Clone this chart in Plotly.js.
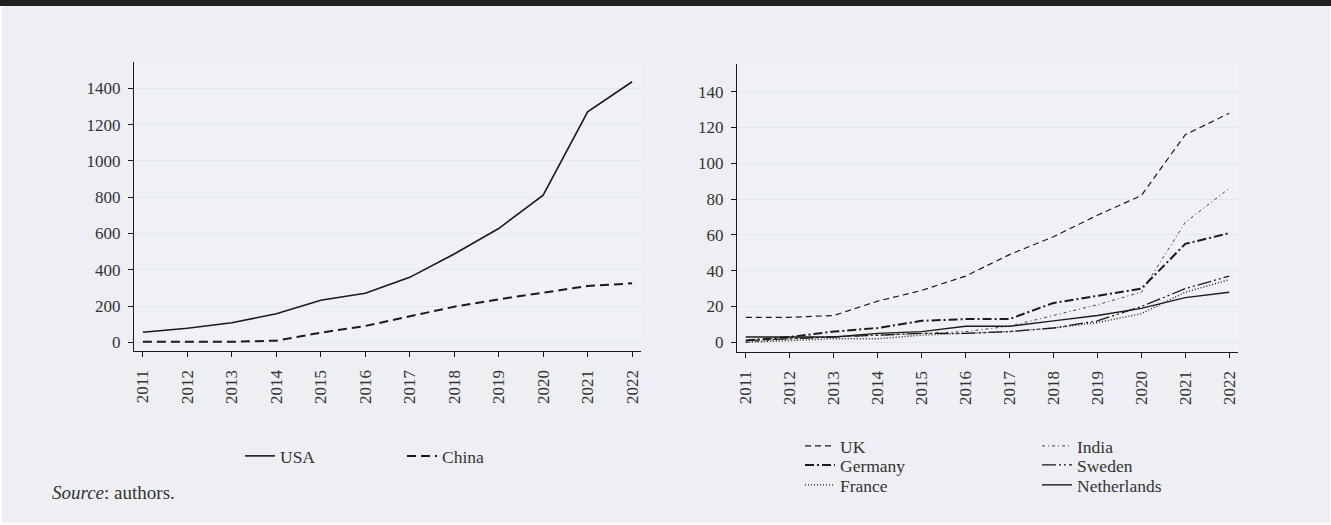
<!DOCTYPE html>
<html>
<head>
<meta charset="utf-8">
<script src="https://cdn.plot.ly/plotly-3.0.1.min.js"></script>
<style>
  html, body { margin: 0; padding: 0; background: #ffffff; }
  #chart { width: 1331px; height: 525px; }
</style>
</head>
<body>
<div id="chart"></div>
<script>
// Years shared by both panels
const years = [2011, 2012, 2013, 2014, 2015, 2016, 2017, 2018, 2019, 2020, 2021, 2022];

// Left panel: USA and China
const usa   = [55, 77, 108, 157, 232, 270, 358, 487, 627, 811, 1270, 1436];
const china = [3, 3, 3, 9, 53, 90, 141, 196, 237, 273, 310, 325];

// Right panel: other countries
const uk          = [14, 14, 15, 23, 29, 37, 49, 59, 71, 82, 116, 128];
const india       = [0, 2, 3, 4, 5, 6, 9, 15, 21, 28, 67, 86];
const germany     = [1, 3, 6, 8, 12, 13, 13, 22, 26, 30, 55, 61];
const sweden      = [1, 2, 3, 4, 5, 5, 6, 8, 12, 20, 30, 37];
const france      = [0, 1, 2, 2, 4, 5, 6, 8, 11, 16, 28, 35];
const netherlands = [3, 3, 3, 5, 6, 9, 9, 12, 15, 19, 25, 28];

const yearLabels = years.map(String);
const leftTicks  = [0, 200, 400, 600, 800, 1000, 1200, 1400];
const rightTicks = [0, 20, 40, 60, 80, 100, 120, 140];

const W = 1331, H = 525;
const px = v => v / W;          // horizontal pixel -> paper
const py = v => 1 - v / H;      // vertical pixel (from top) -> paper

const ink = '#1b1b1b';
const textColor = '#333333';
const family = 'Liberation Serif, Times New Roman, serif';
const tickFont = { family, size: 17, color: textColor };
const legendFont = { family, size: 17.5, color: textColor };

function line(name, x, y, xa, ya, dash, width, legend, color) {
  return {
    type: 'scatter', mode: 'lines', name, x, y,
    xaxis: xa, yaxis: ya, legend,
    line: { color: color || ink, width, dash },
    hoverinfo: 'skip'
  };
}

// Right-hand key is laid out as three rows of two entries
const traces = [
  line('USA', years, usa, 'x', 'y', 'solid', 1.6, 'legend'),
  line('China', years, china, 'x', 'y', '9px,5px', 2, 'legend'),
  line('UK', years, uk, 'x2', 'y2', '6px,4px', 1.2, 'legend2'),
  line('India', years, india, 'x2', 'y2', '3px,3px,1px,3px', 1, 'legend2', '#444'),
  line('Germany', years, germany, 'x2', 'y2', '9px,3px,2px,3px', 2, 'legend3'),
  line('Sweden', years, sweden, 'x2', 'y2', '14px,3px,2px,3px,2px,3px', 1.3, 'legend3'),
  line('France', years, france, 'x2', 'y2', '1px,2px', 1.4, 'legend4'),
  line('Netherlands', years, netherlands, 'x2', 'y2', 'solid', 1.4, 'legend4')
];

const xCommon = {
  range: [2010.8, 2022.2],
  tickmode: 'array', tickvals: years, ticktext: yearLabels,
  tickangle: -90, ticks: 'outside', ticklen: 5, tickwidth: 1, tickcolor: ink,
  showline: true, linecolor: ink, linewidth: 1.2,
  showgrid: false, zeroline: false,
  tickfont: tickFont, ticklabelstandoff: 6, fixedrange: true
};
const yCommon = {
  ticks: 'outside', ticklen: 5, tickwidth: 1, tickcolor: ink,
  showline: true, linecolor: ink, linewidth: 1.2,
  showgrid: true, gridcolor: '#dfe8eb', gridwidth: 1,
  zeroline: false, tickfont: tickFont, ticklabelstandoff: 4, fixedrange: true
};

function rowLegend(xPix, yPix, entry) {
  return {
    orientation: 'h', x: px(xPix), y: py(yPix), xanchor: 'left', yanchor: 'middle',
    bgcolor: 'rgba(0,0,0,0)', font: legendFont,
    entrywidth: entry, entrywidthmode: 'pixels',
    itemclick: false, itemdoubleclick: false
  };
}

const layout = {
  width: W, height: H,
  margin: { l: 0, r: 0, t: 0, b: 0 },
  paper_bgcolor: '#eeeff3',
  plot_bgcolor: '#f0f1f5',
  font: tickFont,
  showlegend: true,
  xaxis: Object.assign({}, xCommon, { domain: [px(134), px(641)], anchor: 'y' }),
  yaxis: Object.assign({}, yCommon, {
    domain: [py(351), py(62)], anchor: 'x',
    range: [-48, 1545], tickmode: 'array', tickvals: leftTicks, ticktext: leftTicks.map(String)
  }),
  xaxis2: Object.assign({}, xCommon, { domain: [px(737), px(1238)], anchor: 'y2' }),
  yaxis2: Object.assign({}, yCommon, {
    domain: [py(352), py(64)], anchor: 'x2',
    range: [-5.4, 155.5], tickmode: 'array', tickvals: rightTicks, ticktext: rightTicks.map(String)
  }),
  legend:  rowLegend(240, 456, 117),
  legend2: rowLegend(800, 446, 192),
  legend3: rowLegend(800, 465, 192),
  legend4: rowLegend(800, 485, 192),
  shapes: [
    // dark band along the top edge
    { type: 'rect', xref: 'paper', yref: 'paper', x0: 0, x1: 1, y0: py(6), y1: 1,
      fillcolor: '#231f20', line: { width: 0 }, layer: 'above' },
    // thin white frame on the left, right and bottom edges
    { type: 'rect', xref: 'paper', yref: 'paper', x0: 0, x1: px(2), y0: 0, y1: py(6),
      fillcolor: '#ffffff', line: { width: 0 }, layer: 'below' },
    { type: 'rect', xref: 'paper', yref: 'paper', x0: px(1330), x1: 1, y0: 0, y1: py(6),
      fillcolor: '#ffffff', line: { width: 0 }, layer: 'below' },
    { type: 'rect', xref: 'paper', yref: 'paper', x0: 0, x1: 1, y0: 0, y1: py(523),
      fillcolor: '#ffffff', line: { width: 0 }, layer: 'below' }
  ],
  annotations: [
    { xref: 'paper', yref: 'paper', x: px(50), y: py(492), xanchor: 'left', yanchor: 'middle',
      text: '<i>Source</i>: authors.', showarrow: false,
      font: { family, size: 19, color: textColor } }
  ]
};

Plotly.newPlot('chart', traces, layout, { displayModeBar: false, staticPlot: true });
</script>
</body>
</html>
